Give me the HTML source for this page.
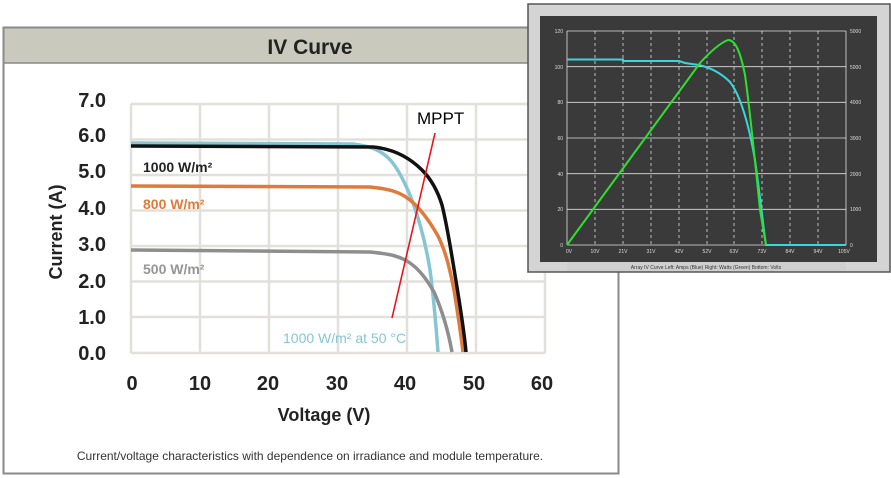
<!DOCTYPE html>
<html><head><meta charset="utf-8"><style>
body{margin:0;background:#fff;width:891px;height:478px;overflow:hidden;position:relative;font-family:"Liberation Sans",sans-serif}
</style></head><body>
<svg width="891" height="478" style="position:absolute;left:0;top:0" font-family="Liberation Sans, sans-serif">
<rect x="0" y="0" width="891" height="478" fill="#fff"/>
<!-- main panel -->
<rect x="3.5" y="27.5" width="615" height="446" fill="#fff" stroke="#8a8a8a" stroke-width="2"/>
<rect x="4.5" y="28.5" width="613" height="34" fill="#c9cabd"/>
<line x1="4" y1="63" x2="618" y2="63" stroke="#888" stroke-width="1.5"/>
<text x="310" y="54" font-size="21" font-weight="bold" fill="#222" text-anchor="middle">IV Curve</text>
<!-- grid -->
<g stroke="#e2e0dc" stroke-width="2.5" fill="none">
<line x1="131" y1="104" x2="545" y2="104"/>
<line x1="131" y1="139.5" x2="545" y2="139.5"/>
<line x1="131" y1="175" x2="545" y2="175"/>
<line x1="131" y1="210.5" x2="545" y2="210.5"/>
<line x1="131" y1="246" x2="545" y2="246"/>
<line x1="131" y1="281.5" x2="545" y2="281.5"/>
<line x1="131" y1="317" x2="545" y2="317"/>
<line x1="131" y1="353" x2="545" y2="353"/>
<line x1="131" y1="104" x2="131" y2="353"/>
<line x1="200" y1="104" x2="200" y2="353"/>
<line x1="269" y1="104" x2="269" y2="353"/>
<line x1="338" y1="104" x2="338" y2="353"/>
<line x1="407" y1="104" x2="407" y2="353"/>
<line x1="476" y1="104" x2="476" y2="353"/>
<line x1="545" y1="104" x2="545" y2="353"/>
</g>
<!-- curves -->
<g fill="none" stroke-width="3.5" stroke-linejoin="round">
<path d="M131,143 L353,144 C370,146 382,150 392,162 C400,172 406,185 412,200 C420,222 426,245 430,270 C434,300 436,325 438,352" stroke="#86c6d2"/>
<path d="M131,250 L370,252 C390,254 400,256 410,263 C420,270 427,280 434,292 C442,310 448,330 452,352" stroke="#8e8e8e"/>
<path d="M131,186 L370,187 C390,189 400,192 410,200 C420,208 430,222 438,236 C446,252 450,270 454,290 C458,315 461,335 463,352" stroke="#e07a3a"/>
<path d="M131,146 L373,147 C395,149 410,158 422,170 C432,180 438,192 442,205 C447,225 451,250 455,275 C460,305 464,330 466,352" stroke="#111"/>
</g>
<line x1="435" y1="133" x2="392" y2="318" stroke="#e8141b" stroke-width="1.6"/>
<text x="417" y="124" font-size="17" fill="#000">MPPT</text>
<g font-size="14" font-weight="bold">
<text x="143" y="172" fill="#222">1000 W/m²</text>
<text x="143" y="209" fill="#e07a3a">800 W/m²</text>
<text x="143" y="274" fill="#959595">500 W/m²</text>
<text x="283" y="343" fill="#86c6d2" font-weight="normal">1000 W/m² at 50 °C</text>
</g>
<!-- y ticks -->
<g font-size="20" font-weight="bold" fill="#222" text-anchor="end">
<text x="106" y="107">7.0</text>
<text x="106" y="142">6.0</text>
<text x="106" y="178">5.0</text>
<text x="106" y="215">4.0</text>
<text x="106" y="251">3.0</text>
<text x="106" y="288">2.0</text>
<text x="106" y="324">1.0</text>
<text x="106" y="360">0.0</text>
</g>
<g font-size="20" font-weight="bold" fill="#222" text-anchor="middle">
<text x="132" y="390">0</text>
<text x="200" y="390">10</text>
<text x="268" y="390">20</text>
<text x="337" y="390">30</text>
<text x="405" y="390">40</text>
<text x="474" y="390">50</text>
<text x="542" y="390">60</text>
</g>
<text x="324" y="421" font-size="18" font-weight="bold" fill="#222" text-anchor="middle">Voltage (V)</text>
<text transform="translate(62,232) rotate(-90)" font-size="18" font-weight="bold" fill="#222" text-anchor="middle">Current (A)</text>
<text x="310" y="460" font-size="12" fill="#333" text-anchor="middle">Current/voltage characteristics with dependence on irradiance and module temperature.</text>
<!-- inset -->
<rect x="528" y="4" width="362" height="268" fill="#d4d4d4" stroke="#555" stroke-width="1.5"/>
<rect x="540" y="16" width="337" height="246" fill="#3a3a3a"/>
<rect x="567" y="262" width="279" height="9" fill="#cfcfcf"/>
<g stroke="#e0e0e0" stroke-width="0.8">
<line x1="567" y1="31" x2="846" y2="31"/>
<line x1="567" y1="66.7" x2="846" y2="66.7"/>
<line x1="567" y1="102.3" x2="846" y2="102.3"/>
<line x1="567" y1="138" x2="846" y2="138"/>
<line x1="567" y1="173.7" x2="846" y2="173.7"/>
<line x1="567" y1="209.3" x2="846" y2="209.3"/>
<line x1="567" y1="245" x2="846" y2="245"/>
<line x1="567" y1="31" x2="567" y2="245"/>
<line x1="846" y1="31" x2="846" y2="245"/>
</g>
<g stroke="#e0e0e0" stroke-width="0.8" stroke-dasharray="3,3">
<line x1="595" y1="31" x2="595" y2="245"/>
<line x1="623" y1="31" x2="623" y2="245"/>
<line x1="651" y1="31" x2="651" y2="245"/>
<line x1="679" y1="31" x2="679" y2="245"/>
<line x1="707" y1="31" x2="707" y2="245"/>
<line x1="734" y1="31" x2="734" y2="245"/>
<line x1="762" y1="31" x2="762" y2="245"/>
<line x1="790" y1="31" x2="790" y2="245"/>
<line x1="818" y1="31" x2="818" y2="245"/>
</g>
<g font-size="5" fill="#ddd">
<text x="563" y="33" text-anchor="end">120</text>
<text x="563" y="69" text-anchor="end">100</text>
<text x="563" y="104" text-anchor="end">80</text>
<text x="563" y="140" text-anchor="end">60</text>
<text x="563" y="176" text-anchor="end">40</text>
<text x="563" y="211" text-anchor="end">20</text>
<text x="563" y="247" text-anchor="end">0</text>
<text x="850" y="33">5000</text>
<text x="850" y="69">5000</text>
<text x="850" y="104">4000</text>
<text x="850" y="140">3000</text>
<text x="850" y="176">2000</text>
<text x="850" y="211">1000</text>
<text x="850" y="247">0</text>
</g>
<g font-size="5" fill="#ddd" text-anchor="middle">
<text x="569" y="253">0V</text><text x="595" y="253">10V</text><text x="623" y="253">21V</text><text x="651" y="253">31V</text><text x="679" y="253">42V</text><text x="707" y="253">52V</text><text x="734" y="253">63V</text><text x="762" y="253">73V</text><text x="790" y="253">84V</text><text x="818" y="253">94V</text><text x="844" y="253">105V</text>
</g>
<text x="706" y="269" font-size="5" fill="#333" text-anchor="middle">Array IV Curve Left: Amps (Blue) Right: Watts (Green) Bottom: Volts</text>
<path d="M567,59.5 L623,59.5 L623,61 L679,61 L685,63 L699,65 C712,68 722,74 730,82 C740,95 748,120 755,160 C760,195 763,225 766,245 L846,245" fill="none" stroke="#39d6dc" stroke-width="2"/>
<path d="M567,245 L700,63 C710,52 720,43 728,40 C735,40 740,50 745,75 C750,110 755,160 760,210 L766,245" fill="none" stroke="#2ee02e" stroke-width="2"/>
</svg>
</body></html>
